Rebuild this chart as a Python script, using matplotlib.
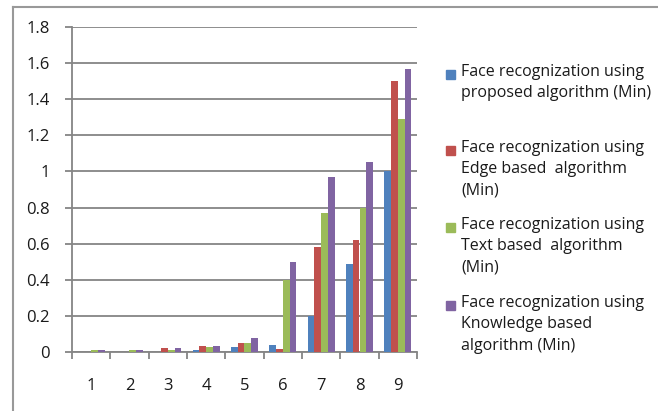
import numpy as np
import matplotlib.pyplot as plt
from matplotlib.patches import Rectangle
from matplotlib.lines import Line2D

plt.rcParams['font.family'] = ['Open Sans', 'DejaVu Sans']

categories = ['1', '2', '3', '4', '5', '6', '7', '8', '9']
proposed = [0.0, 0.0, 0.0, 0.01, 0.025, 0.04, 0.2, 0.49, 1.0]
edge = [0.0, 0.0, 0.02, 0.035, 0.05, 0.015, 0.58, 0.62, 1.5]
text_based = [0.01, 0.01, 0.01, 0.025, 0.05, 0.4, 0.77, 0.8, 1.29]
knowledge = [0.01, 0.01, 0.02, 0.035, 0.075, 0.5, 0.97, 1.05, 1.57]
labels = ['Face recognization using\nproposed algorithm (Min)',
          'Face recognization using\nEdge based  algorithm\n(Min)',
          'Face recognization using\nText based  algorithm\n(Min)',
          'Face recognization using\nKnowledge based\nalgorithm (Min)']
colors = ['#4F81BD', '#C0504D', '#9BBB59', '#8064A2']

W, H = 658, 411
fig = plt.figure(figsize=(W / 100, H / 100), dpi=100)
ax = fig.add_axes([72 / W, (H - 352) / H, (417 - 72) / W, (352 - 27) / H])

x = np.arange(len(categories))
bw = 0.175
series = [proposed, edge, text_based, knowledge]
for i, (vals, c) in enumerate(zip(series, colors)):
    ax.bar(x + (i - 1.5) * bw, vals, bw, color=c, zorder=3)

grid_c = '#858585'
txt_c = '#1a1a1a'
ax.set_xlim(-0.5, len(categories) - 0.5)
ax.set_ylim(0, 1.8)
ax.set_yticks(np.arange(0, 1.81, 0.2))
ax.set_yticklabels(['0', '0.2', '0.4', '0.6', '0.8', '1', '1.2', '1.4', '1.6', '1.8'])
ax.yaxis.grid(True, color=grid_c, linewidth=1.3, zorder=0)
ax.set_xticks(x)
ax.set_xticklabels(categories)
ax.set_xticks(np.arange(-0.5, len(categories), 1), minor=True)
ax.tick_params(axis='x', which='major', length=0, pad=19, labelsize=12, labelcolor=txt_c)
ax.tick_params(axis='x', which='minor', length=5, color=grid_c, width=1.3)
ax.tick_params(axis='y', length=5, color=grid_c, width=1.3, pad=11, labelsize=12,
               labelcolor=txt_c)
for s in ['top', 'right']:
    ax.spines[s].set_visible(False)
for s in ['left', 'bottom']:
    ax.spines[s].set_color(grid_c)
    ax.spines[s].set_linewidth(1.3)

# legend, drawn by hand to keep the even spacing
tops = [74, 150, 227, 305]
for lab, c, ty in zip(labels, colors, tops):
    fig.patches.append(Rectangle((446 / W, (H - ty - 5) / H), 9 / W, 9 / H,
                                 color=c, transform=fig.transFigure))
    fig.text(461 / W, (H - ty + 10) / H, lab, fontsize=11.5, va='top', ha='left',
             linespacing=1.45, color=txt_c)

# outer frame
fig.add_artist(Line2D([12.5 / W, 12.5 / W], [0, (H - 7.5) / H], color='#999999', lw=1.5))
fig.add_artist(Line2D([12.5 / W, 1], [(H - 7.5) / H, (H - 7.5) / H], color='#999999', lw=1.5))

fig.savefig('out.png', dpi=100)
